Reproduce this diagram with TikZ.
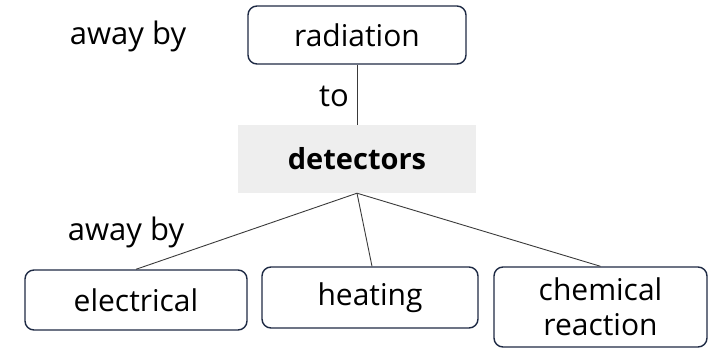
\documentclass[tikz,border=0pt]{standalone}
\usepackage{fontspec}
\setmainfont{Open Sans}
\begin{document}
\begin{tikzpicture}[x=1pt,y=-1pt,
  box/.style={draw=boxc, line width=1.4pt, rounded corners=9pt, inner sep=0pt, font=\fontsize{30}{34}\selectfont, align=center},
  lbl/.style={inner sep=0pt, font=\fontsize{31}{34}\selectfont},
  conn/.style={draw=linec, line width=0.9pt}]
\definecolor{boxc}{HTML}{1E2A44}
\definecolor{linec}{HTML}{3A3A3A}
\definecolor{grayf}{HTML}{EEEEEE}
\useasboundingbox (0,0) rectangle (709,350);
\node[box, minimum width=218pt, minimum height=58pt] (rad) at (357,35) {radiation};
\node[inner sep=0pt, fill=grayf, minimum width=238pt, minimum height=68pt, font=\fontsize{29}{33}\selectfont\bfseries] (det) at (357,159) {detectors};
\node[box, minimum width=222pt, minimum height=60pt] (ele) at (136,300) {electrical};
\node[box, minimum width=216pt, minimum height=61pt] (hea) at (370,297.5) {heating};
\node[box, minimum width=213pt, minimum height=80pt, font=\fontsize{30}{35}\selectfont] (che) at (600.5,307) {chemical\\reaction};
\node[lbl] (aw1) at (128,36) {away by};
\node[lbl] (to) at (334,96) {to};
\node[lbl] (aw2) at (126,232) {away by};
\draw[conn] (rad.south) -- (det.north);
\draw[conn] (det.south) -- (ele.north);
\draw[conn] (det.south) -- ([xshift=2pt]hea.north);
\draw[conn] (det.south) -- (che.north);
\end{tikzpicture}
\end{document}
